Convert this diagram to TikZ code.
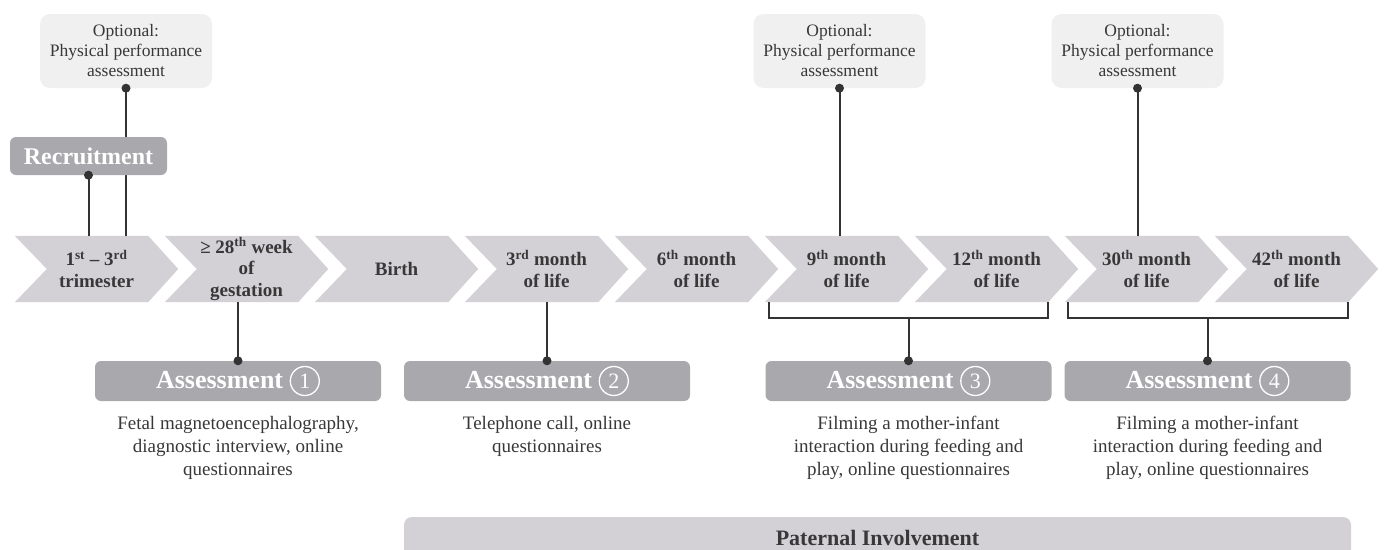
\documentclass[tikz,border=0pt]{standalone}
\usepackage{fontspec}
\setmainfont{Liberation Serif}
\usetikzlibrary{calc}
\definecolor{chev}{HTML}{D4D1D6}
\definecolor{darkbox}{HTML}{A9A8AD}
\definecolor{optfill}{HTML}{F0F0F0}
\definecolor{txt}{HTML}{383838}
\definecolor{ln}{HTML}{333333}
\pgfdeclarelayer{bg}
\pgfsetlayers{bg,main}
\newcommand{\cnum}[1]{\tikz[baseline=(n.base)]\node[draw=white,circle,line width=1.3pt,inner sep=0pt,minimum size=29pt,font=\fontsize{22}{22}\selectfont\mdseries,text=white](n){#1};}
\begin{document}
\begin{tikzpicture}[x=1pt,y=-1pt,
  optbox/.style={fill=optfill, rounded corners=10pt, minimum width=172pt, minimum height=74pt, align=center, font=\fontsize{17.5}{20}\selectfont, text=txt, inner sep=0pt},
  recbox/.style={fill=darkbox, rounded corners=6pt, minimum width=157pt, minimum height=38pt, inner sep=0pt, font=\bfseries\fontsize{24}{24}\selectfont, text=white},
  chevnode/.style={minimum width=163pt, minimum height=66pt, inner sep=0pt, align=center, font=\bfseries\fontsize{19}{21.5}\selectfont, text=txt},
  abox/.style={fill=darkbox, rounded corners=6pt, minimum width=286pt, minimum height=40pt, inner sep=0pt, font=\bfseries\fontsize{26}{26}\selectfont, text=white},
  desc/.style={align=center, anchor=north, inner sep=0pt, font=\fontsize{19}{23}\selectfont, text=txt},
  conn/.style={draw=ln, line width=2pt},
  dotc/.style={fill=ln}]
\useasboundingbox (0,0) rectangle (1384,549);

% timeline chevrons (text nodes)
\node[chevnode] (c1) at (96.5,269) {1\textsuperscript{st} – 3\textsuperscript{rd}\\trimester};
\node[chevnode] (c2) at (246.5,269) {≥ 28\textsuperscript{th} week\\of\\gestation};
\node[chevnode] (c3) at (396.5,269) {Birth};
\node[chevnode] (c4) at (546.5,269) {3\textsuperscript{rd} month\\of life};
\node[chevnode] (c5) at (696.5,269) {6\textsuperscript{th} month\\of life};
\node[chevnode] (c6) at (846.5,269) {9\textsuperscript{th} month\\of life};
\node[chevnode] (c7) at (996.5,269) {12\textsuperscript{th} month\\of life};
\node[chevnode] (c8) at (1146.5,269) {30\textsuperscript{th} month\\of life};
\node[chevnode] (c9) at (1296.5,269) {42\textsuperscript{th} month\\of life};

% optional boxes
\node[optbox] (opt1) at (126,51) {Optional:\\Physical performance\\assessment};
\node[optbox] (opt2) at (839.5,51) {Optional:\\Physical performance\\assessment};
\node[optbox] (opt3) at (1137.5,51) {Optional:\\Physical performance\\assessment};

% recruitment
\node[recbox] (rec) at (88.5,156) {Recruitment};

% assessments
\node[abox] (a1) at (238,381) {Assessment \cnum{1}};
\node[abox] (a2) at (547,381) {Assessment \cnum{2}};
\node[abox] (a3) at (908.5,381) {Assessment \cnum{3}};
\node[abox] (a4) at (1207.5,381) {Assessment \cnum{4}};

% descriptions
\node[desc] (d1) at (238,416) {Fetal magnetoencephalography,\\diagnostic interview, online\\questionnaires};
\node[desc] (d2) at (547,416) {Telephone call, online\\questionnaires};
\node[desc] (d3) at (908.5,416) {Filming a mother-infant\\interaction during feeding and\\play, online questionnaires};
\node[desc] (d4) at (1207.5,416) {Filming a mother-infant\\interaction during feeding and\\play, online questionnaires};

% paternal involvement
\node[font=\bfseries\fontsize{22}{22}\selectfont, text=txt, inner sep=0pt] (pat) at (877.5,538) {Paternal Involvement};

% bracket coordinates
\coordinate (b1l) at ([xshift=4pt]c6.south west);
\coordinate (b1r) at ([xshift=-30pt]c7.south east);
\coordinate (b1h) at ([yshift=-16pt]b1l);
\coordinate (b2l) at ([xshift=3pt]c8.south west);
\coordinate (b2r) at ([xshift=-30pt]c9.south east);
\coordinate (b2h) at ([yshift=-16pt]b2l);

\begin{pgfonlayer}{bg}
  \foreach \c in {c1,c2,c3,c4,c5,c6,c7,c8,c9}{
    \fill[chev] (\c.north west) -- ([xshift=-30pt]\c.north east) -- (\c.east)
      -- ([xshift=-30pt]\c.south east) -- (\c.south west) -- ([xshift=32pt]\c.west) -- cycle;
  }
  \fill[chev, rounded corners=8pt] (404,517) rectangle (1351,580);
  % connectors
  \draw[conn] (opt1.south) -- (opt1.south |- c1.north);
  \draw[conn] (rec.south) -- (rec.south |- c1.north);
  \draw[conn] (a1.north) -- (a1.north |- c2.south);
  \draw[conn] (a2.north) -- (a2.north |- c4.south);
  \draw[conn] (opt2.south) -- (opt2.south |- c6.north);
  \draw[conn] (opt3.south) -- (opt3.south |- c8.north);
  \draw[conn] (b1l) -- (b1h) -| (b1r);
  \draw[conn] (b2l) -- (b2h) -| (b2r);
  \draw[conn] (a3.north) -- (a3.north |- b1h);
  \draw[conn] (a4.north) -- (a4.north |- b2h);
\end{pgfonlayer}

% dots
\fill[dotc] (opt1.south) circle (4.5pt);
\fill[dotc] (opt2.south) circle (4.5pt);
\fill[dotc] (opt3.south) circle (4.5pt);
\fill[dotc] (rec.south) circle (4.5pt);
\fill[dotc] (a1.north) circle (4.5pt);
\fill[dotc] (a2.north) circle (4.5pt);
\fill[dotc] (a3.north) circle (4.5pt);
\fill[dotc] (a4.north) circle (4.5pt);
\end{tikzpicture}
\end{document}
